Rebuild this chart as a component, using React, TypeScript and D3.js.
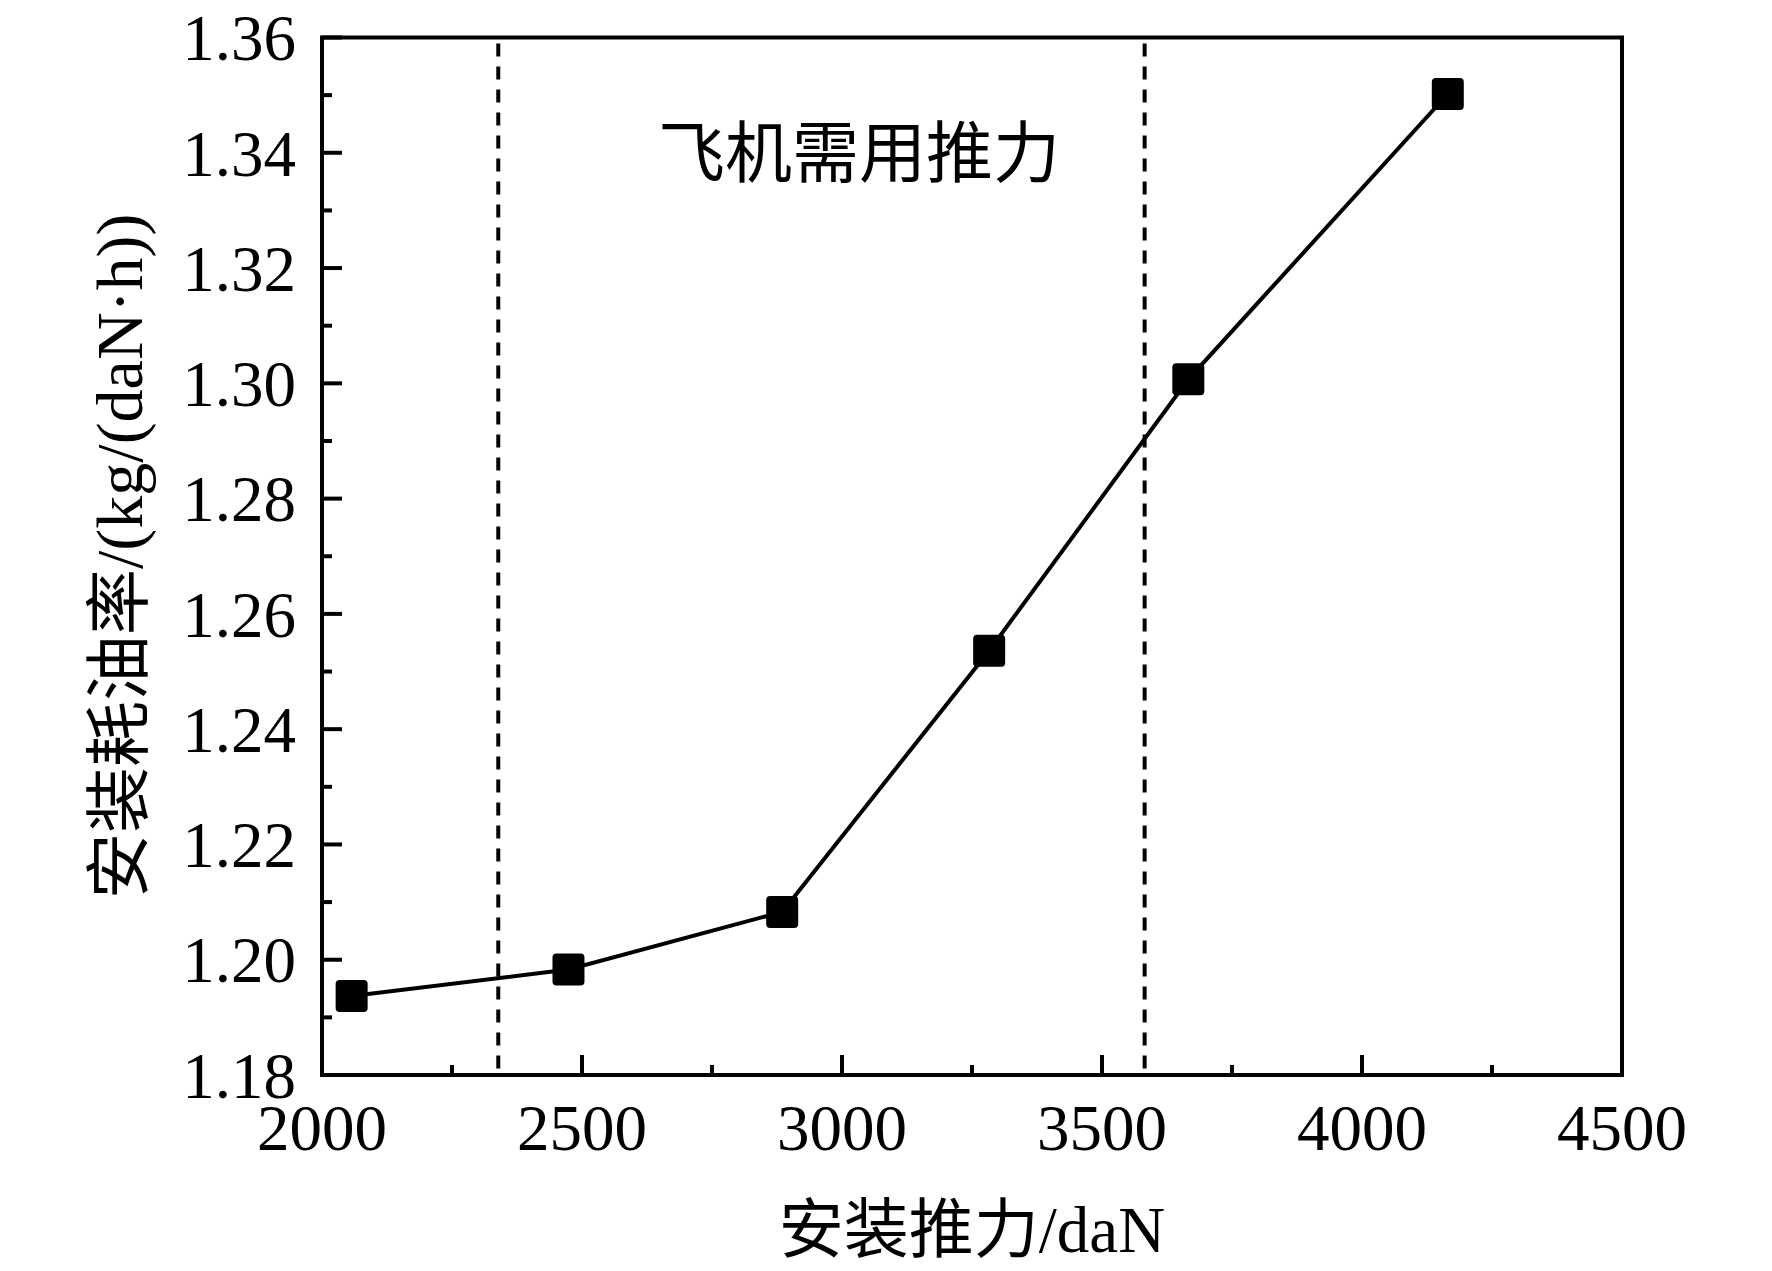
import React from "react";
import * as d3 from "d3";

const thrust = [2057, 2474, 2885, 3283, 3666, 4165];
const sfc = [1.1937, 1.1983, 1.2083, 1.2536, 1.3007, 1.3502];
const requiredRange = [2339, 3582];
const xTicks = [2000, 2500, 3000, 3500, 4000, 4500];
const yTicks = [1.18, 1.2, 1.22, 1.24, 1.26, 1.28, 1.3, 1.32, 1.34, 1.36];
const xLabel = "安装推力/daN";
const yLabel = "安装耗油率/(kg/(daN·h))";
const annotation = "飞机需用推力";

const W = 1772;
const H = 1271;
const M = { left: 322, right: 1622, top: 37.5, bottom: 1075 };
const FONT = "'Liberation Serif', 'Times New Roman', 'Noto Sans CJK SC', serif";

export default function App() {
  const x = d3.scaleLinear().domain([2000, 4500]).range([M.left, M.right]);
  const y = d3.scaleLinear().domain([1.18, 1.36]).range([M.bottom, M.top]);
  const pts = thrust.map((t, i) => [x(t), y(sfc[i])] as [number, number]);
  const line = d3.line()(pts) || "";
  const xMinor = d3.range(2250, 4500, 500);
  const yMinor = d3.range(1.19, 1.36, 0.02);
  const ms = 32;
  const sw = 4;
  return (
    <svg
      width={W}
      height={H}
      viewBox={`0 0 ${W} ${H}`}
      style={{ position: "absolute", left: 0, top: 0, background: "#fff" }}
      fontFamily={FONT}
    >
      {requiredRange.map((v, i) => (
        <line
          key={"d" + i}
          x1={x(v)}
          x2={x(v)}
          y1={M.top + 6}
          y2={M.bottom}
          stroke="#000"
          strokeWidth={4}
          strokeDasharray="13 10"
        />
      ))}
      <path d={line} fill="none" stroke="#000" strokeWidth={4} />
      {pts.map((p, i) => (
        <rect
          key={"m" + i}
          x={p[0] - ms / 2}
          y={p[1] - ms / 2}
          width={ms}
          height={ms}
          rx={4}
          fill="#000"
        />
      ))}
      <rect
        x={M.left}
        y={M.top}
        width={M.right - M.left}
        height={M.bottom - M.top}
        fill="none"
        stroke="#000"
        strokeWidth={sw}
      />
      {xTicks.map((t) => (
        <g key={"xt" + t}>
          <line x1={x(t)} x2={x(t)} y1={M.bottom} y2={M.bottom - 20} stroke="#000" strokeWidth={sw} />
          <text x={x(t)} y={1150} textAnchor="middle" fontSize={65}>
            {t}
          </text>
        </g>
      ))}
      {xMinor.map((t) => (
        <line key={"xm" + t} x1={x(t)} x2={x(t)} y1={M.bottom} y2={M.bottom - 10} stroke="#000" strokeWidth={sw} />
      ))}
      {yTicks.map((t) => (
        <g key={"yt" + t}>
          <line x1={M.left} x2={M.left + 20} y1={y(t)} y2={y(t)} stroke="#000" strokeWidth={sw} />
          <text x={296} y={y(t)} dy="0.35em" textAnchor="end" fontSize={65}>
            {d3.format(".2f")(t)}
          </text>
        </g>
      ))}
      {yMinor.map((t) => (
        <line key={"ym" + t} x1={M.left} x2={M.left + 10} y1={y(t)} y2={y(t)} stroke="#000" strokeWidth={sw} />
      ))}
      <text x={(M.left + M.right) / 2} y={1252} textAnchor="middle" fontSize={65}>
        {xLabel}
      </text>
      <text
        transform={`translate(142, ${(M.top + M.bottom) / 2}) rotate(-90)`}
        textAnchor="middle"
        fontSize={66}
      >
        {yLabel}
      </text>
      <text x={859} y={177} textAnchor="middle" fontSize={67}>
        {annotation}
      </text>
    </svg>
  );
}
